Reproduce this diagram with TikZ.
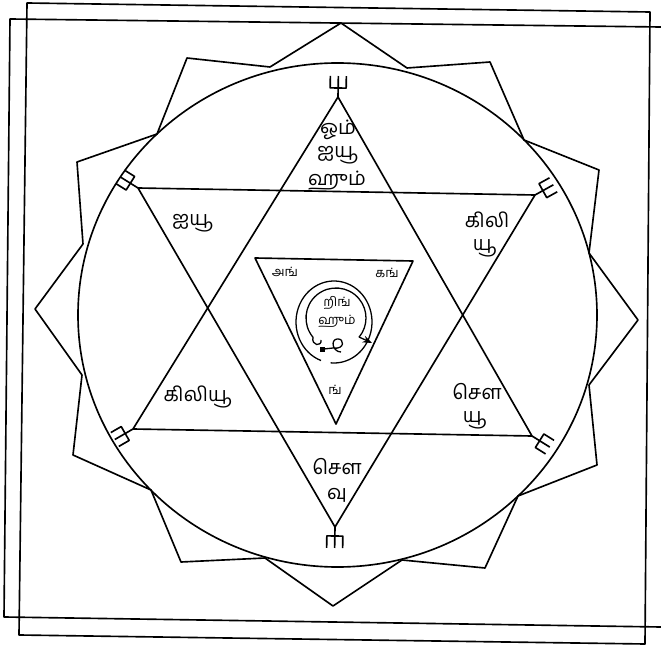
\documentclass[tikz,border=0pt]{standalone}
\usepackage{fontspec}
\newfontfamily\tamil[Script=Tamil]{Hind Madurai}
\usepackage{tikz}
\usetikzlibrary{calc, positioning, arrows.meta}

\begin{document}
\begin{tikzpicture}[x=0.03cm, y=-0.03cm, >=Stealth,
    yline/.style={black, line width=1.4pt, line join=round},
    bigtam/.style={font=\tamil\fontsize{17}{18}\selectfont, inner sep=0pt},
    smalltam/.style={font=\tamil\fontsize{11}{12}\selectfont, inner sep=0pt}]
    \useasboundingbox (0,0) rectangle (661,649);

    % 1. Hai khung vuong
    \draw[yline] (27,3) -- (650,12) -- (645,644) -- (19,635) -- cycle;
    \draw[yline] (661,27) -- (10,19) -- (4,617) -- (661,627);

    % 2. Ngoi sao 12 canh va vong tron
    \draw[yline] (341,23) -- (407,68) -- (490,62) -- (524,140) -- (599,170)
        -- (589,253) -- (638,320) -- (589,385) -- (597,465) -- (518,496)
        -- (485,568) -- (402,560) -- (333,606) -- (265,558) -- (181,562)
        -- (151,490) -- (73,455) -- (82,375) -- (35,309) -- (83,244)
        -- (77,162) -- (157,134) -- (187,58) -- (270,67) -- cycle;
    \draw[yline] (337.5,315) ellipse [x radius=259.5, y radius=252];

    % 3. Luc giac (hai tam giac)
    \coordinate (ut) at (338,97);
    \coordinate (ul) at (133,429);
    \coordinate (ur) at (532,436);
    \coordinate (dl) at (138,188);
    \coordinate (dr) at (535,195);
    \coordinate (db) at (335,527);
    \draw[yline] (ut) -- (ur) -- (ul) -- cycle;
    \draw[yline] (dl) -- (dr) -- (db) -- cycle;

    % Dinh ba tai cac dinh
    \foreach \v/\a in {ut/-1, dr/-61, ur/-122, db/179, ul/120, dl/58} {
        \begin{scope}[shift={(\v)}, rotate=\a]
            \draw[yline] (0,0) -- (0,-21);
            \draw[yline] (-8,-21) -- (-8,-9) -- (8,-9) -- (8,-21);
        \end{scope}
    }

    % 4. Tam giac nguoc ben trong va vong xoan
    \draw[yline] (255,258) -- (413,261) -- (336,424) -- cycle;
    \draw[yline, line width=1.1pt] (334,322) ++(110:38 and 41) arc[start angle=110, end angle=455, x radius=38, y radius=41];
    \draw[yline, line width=1.1pt] (336,318) ++(140:30) arc[start angle=140, end angle=400, radius=30];
    \draw[yline, line width=1.1pt] (313,337) .. controls (311,346) and (322,347) .. (321,340);
    \draw[yline, line width=1.1pt] (324,349) -- (333,348) .. controls (345,350) and (345,338) .. (337,339) .. controls (330,340) and (333,352) .. (341,352);
    \fill (320,347) rectangle (325,352);
    \draw[yline, line width=1.1pt, ->] (359,337) -- (372,343);

    % 5. Chu
    \node[bigtam] (om) at (338,130) {ஓம்};
    \node[bigtam] (aiyutop) at (338,155) {ஐயூ};
    \node[bigtam] (humtop) at (337,181) {ஹும்};
    \node[bigtam] (aiyuleft) at (193,223) {ஐயூ};
    \node[bigtam] (kili) at (487,220) {கிலி};
    \node[bigtam] (yuright) at (485,248) {யூ};
    \node[bigtam] (kiliyu) at (198,397) {கிலியூ};
    \node[bigtam] (sauright) at (477,392) {சௌ};
    \node[bigtam] (yulow) at (475,420) {யூ};
    \node[bigtam] (saubottom) at (337,467) {சௌ};
    \node[bigtam] (vu) at (337,495) {வு};
    \node[smalltam] (ang) at (285,272) {அங்};
    \node[smalltam] (kang) at (387,273) {கங்};
    \node[smalltam] (nga) at (335,390) {ங்};
    \node[smalltam] (ring) at (337,303) {றிங்};
    \node[smalltam] (humcentre) at (337,321) {ஹும்};
\end{tikzpicture}
\end{document}
